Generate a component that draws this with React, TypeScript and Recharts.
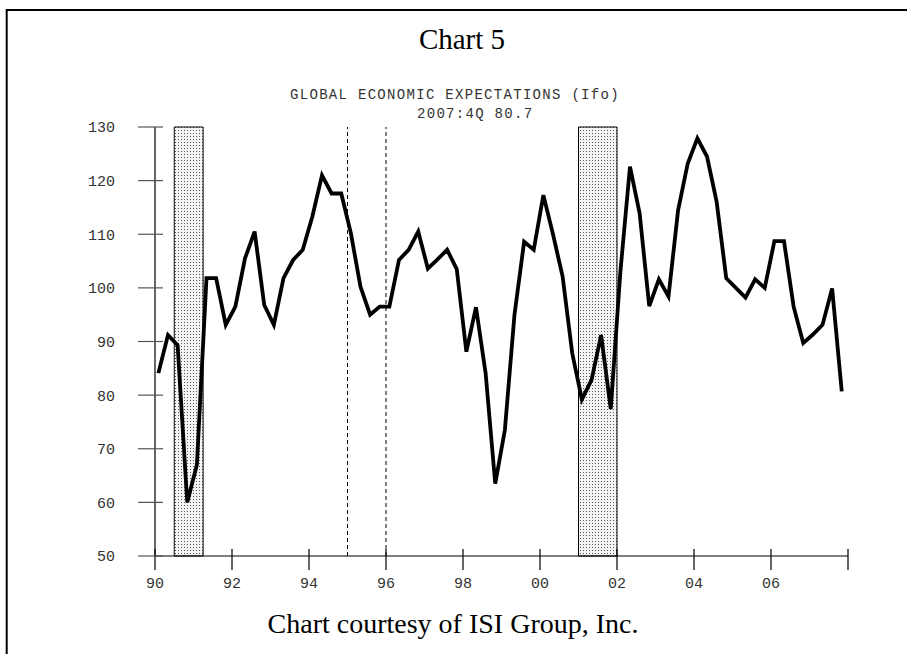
import React from "react";
import { LineChart, Line, XAxis, YAxis, ReferenceArea, ReferenceLine } from "recharts";

// Ifo world economic expectations, quarterly from 1990:1Q to 2007:4Q
const ifoValues = [
  84.1, 91.2, 89.3, 60.0, 67.0, 101.8, 101.8, 93.1,
  96.5, 105.5, 110.5, 96.8, 93.1, 101.8, 105.2, 107.1,
  113.3, 121.0, 117.6, 117.6, 110.2, 100.2, 95.0, 96.5,
  96.5, 105.2, 107.1, 110.5, 103.6, 105.3, 107.1, 103.5,
  88.1, 96.4, 84.1, 63.5, 73.5, 95.0, 108.6, 107.1,
  117.3, 110.0, 102.1, 87.8, 79.2, 82.8, 91.2, 77.4,
  103.0, 122.6, 113.9, 96.6, 101.6, 98.4, 114.5, 123.2,
  127.9, 124.5, 116.1, 101.8, 100.0, 98.2, 101.6, 100.0,
  108.7, 108.7, 96.5, 89.7, 91.3, 93.1, 99.9, 80.7
];
const startYear = 1990;

const recessions = [
  { from: 1990.5, to: 1991.25 },
  { from: 2001, to: 2002 }
];
const markerYears = [1995, 1996];

const xTicks = [1990, 1992, 1994, 1996, 1998, 2000, 2002, 2004, 2006, 2008];
const xTickLabels = ["90", "92", "94", "96", "98", "00", "02", "04", "06", ""];
const yTicks = [50, 60, 70, 80, 90, 100, 110, 120, 130];

const data = ifoValues.map((v, i) => ({ t: startYear + (i + 0.35) / 4, v }));

const monoFont = "'Liberation Mono', 'Courier New', monospace";
const serifFont = "'Liberation Serif', 'Times New Roman', serif";

function YTick({ x, y, payload }: any) {
  return (
    <g>
      <line x1={x - 17} x2={x + 8} y1={y} y2={y} stroke="#555" strokeWidth={1.2} />
      <text x={x - 40} y={y} dy="0.36em" textAnchor="end" fontFamily={monoFont} fontSize={15} fill="#333">
        {payload.value}
      </text>
    </g>
  );
}

function XTick({ x, y, payload }: any) {
  const idx = xTicks.indexOf(payload.value);
  return (
    <g>
      <line x1={x} x2={x} y1={y - 7} y2={y + 14} stroke="#000" strokeWidth={1.2} />
      <text x={x} y={y + 27} dy="0.36em" textAnchor="middle" fontFamily={monoFont} fontSize={15} fill="#333">
        {idx >= 0 ? xTickLabels[idx] : ""}
      </text>
    </g>
  );
}

export default function App() {
  return (
    <div style={{ position: "absolute", left: 0, top: 0, width: 907, height: 654, overflow: "hidden", background: "#fff" }}>
      <svg width={907} height={654} style={{ position: "absolute", left: 0, top: 0 }}>
        <defs>
          <pattern id="dots" width={3} height={3} patternUnits="userSpaceOnUse">
            <rect width={3} height={3} fill="#f4f4f4" />
            <rect x={1} y={1} width={1} height={1} fill="#555" />
          </pattern>
        </defs>
        <path d="M6.7,654 L6.7,10 L907,10" fill="none" stroke="#000" strokeWidth={2} />
        <text x={462} y={49} textAnchor="middle" fontFamily={serifFont} fontSize={29} fill="#000">
          Chart 5
        </text>
        <text x={455} y={99} textAnchor="middle" fontFamily={monoFont} fontSize={14} letterSpacing={1.3} fill="#333">
          GLOBAL ECONOMIC EXPECTATIONS (Ifo)
        </text>
        <text x={417} y={118} fontFamily={monoFont} fontSize={14} letterSpacing={1.3} fill="#333">
          2007:4Q 80.7
        </text>
        <text x={453} y={633} textAnchor="middle" fontFamily={serifFont} fontSize={28} fill="#000">
          Chart courtesy of ISI Group, Inc.
        </text>
      </svg>
      <div style={{ position: "absolute", left: 0, top: 0 }}>
        <LineChart width={907} height={654} data={data} margin={{ top: 127, right: 59, bottom: 0, left: 0 }}>
          <XAxis
            dataKey="t"
            type="number"
            domain={[1990, 2008]}
            ticks={xTicks}
            interval={0}
            height={98}
            tickSize={0}
            tickMargin={0}
            tickLine={false}
            axisLine={{ stroke: "#000", strokeWidth: 1.2 }}
            tick={<XTick />}
          />
          <YAxis
            type="number"
            domain={[50, 130]}
            ticks={yTicks}
            interval={0}
            width={155}
            tickSize={0}
            tickMargin={0}
            tickLine={false}
            axisLine={{ stroke: "#000", strokeWidth: 1.2 }}
            tick={<YTick />}
          />
          {recessions.map((r) => (
            <ReferenceArea
              key={r.from}
              x1={r.from}
              x2={r.to}
              y1={50}
              y2={130}
              fill="url(#dots)"
              fillOpacity={1}
              stroke="#000"
              strokeWidth={1}
            />
          ))}
          {markerYears.map((yr) => (
            <ReferenceLine key={yr} x={yr} stroke="#000" strokeWidth={1} strokeDasharray="4 3" />
          ))}
          <Line
            dataKey="v"
            type="linear"
            stroke="#000"
            strokeWidth={3.8}
            dot={false}
            isAnimationActive={false}
          />
        </LineChart>
      </div>
    </div>
  );
}
